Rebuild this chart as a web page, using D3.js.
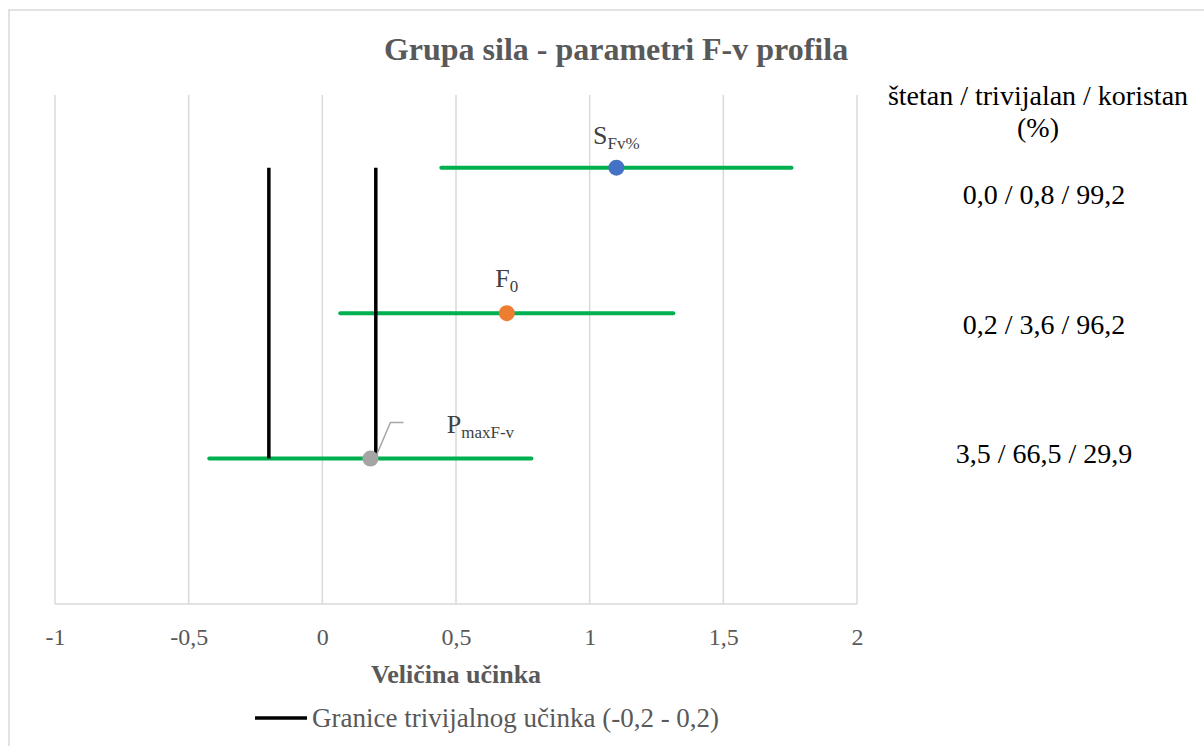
<!DOCTYPE html>
<html>
<head>
<meta charset="utf-8">
<script src="https://cdn.jsdelivr.net/npm/d3@7"></script>
<style>
  body { margin: 0; background: #fff; }
</style>
</head>
<body>
<svg class="chart"></svg>
<script>
// effect sizes (mean with interval) for each parameter
const params = ['SFv%', 'F0', 'PmaxF-v'];
const rowPos = [3, 2, 1];
const means = [1.10, 0.69, 0.18];
const lows = [0.445, 0.067, -0.423];
const highs = [1.755, 1.313, 0.782];
const pointColors = ['#4472C4', '#ED7D31', '#A5A5A5'];
const probText = ['0,0 / 0,8 / 99,2', '0,2 / 3,6 / 96,2', '3,5 / 66,5 / 29,9'];
const trivial = [-0.2, 0.2];
const xTicks = [-1, -0.5, 0, 0.5, 1, 1.5, 2];

const FONT = "'Liberation Serif', 'Times New Roman', serif";

const config = {
  width: 1204, height: 746,
  plot: { left: 55, right: 857, top: 95, bottom: 604 }
};

const svg = d3.select('.chart')
  .attr('width', config.width)
  .attr('height', config.height)
  .attr('font-family', FONT);

// chart frame
svg.append('rect')
  .attr('x', 9).attr('y', 10)
  .attr('width', 1204).attr('height', 746)
  .style('fill', '#fff')
  .style('stroke', '#d9d9d9')
  .style('stroke-width', 1.5);

const x = d3.scaleLinear().domain([-1, 2]).range([config.plot.left, config.plot.right]);
const y = d3.scaleLinear().domain([0, 3.5]).range([config.plot.bottom, config.plot.top]);

// gridlines
svg.selectAll('.grid')
  .data(xTicks)
  .enter().append('line')
  .attr('x1', d => x(d)).attr('x2', d => x(d))
  .attr('y1', config.plot.top).attr('y2', config.plot.bottom)
  .style('stroke', '#d9d9d9')
  .style('stroke-width', 1.5);

// bottom axis line
svg.append('line')
  .attr('x1', x(-1)).attr('x2', x(2))
  .attr('y1', config.plot.bottom).attr('y2', config.plot.bottom)
  .style('stroke', '#d9d9d9')
  .style('stroke-width', 1.5);

// x tick labels
const xAxis = d3.axisBottom(x).tickValues(xTicks).tickSize(0).tickPadding(24)
  .tickFormat(d => String(d).replace('.', ','));
const gx = svg.append('g')
  .attr('transform', 'translate(0,' + config.plot.bottom + ')')
  .call(xAxis)
  .attr('font-family', FONT)
  .attr('font-size', 24);
gx.select('.domain').remove();
gx.selectAll('text')
  .style('fill', '#595959');

// interval lines
svg.selectAll('.ci')
  .data(params)
  .enter().append('line')
  .attr('x1', (d, i) => x(lows[i])).attr('x2', (d, i) => x(highs[i]))
  .attr('y1', (d, i) => y(rowPos[i])).attr('y2', (d, i) => y(rowPos[i]))
  .style('stroke', '#00B050')
  .style('stroke-width', 4)
  .style('stroke-linecap', 'round');

// trivial effect boundaries
svg.selectAll('.triv')
  .data(trivial)
  .enter().append('line')
  .attr('x1', d => x(d)).attr('x2', d => x(d))
  .attr('y1', y(d3.max(rowPos))).attr('y2', y(d3.min(rowPos)))
  .style('stroke', '#000')
  .style('stroke-width', 3.5);

// leader line for the last label
const pi = 2;
svg.append('polyline')
  .attr('points', [
    [x(means[pi]) + 5, y(rowPos[pi]) - 1],
    [x(means[pi]) + 20, y(rowPos[pi]) - 36],
    [x(means[pi]) + 33, y(rowPos[pi]) - 36]
  ].map(p => p.join(',')).join(' '))
  .style('fill', 'none')
  .style('stroke', '#a6a6a6')
  .style('stroke-width', 1.5);

// mean points
svg.selectAll('.pt')
  .data(params)
  .enter().append('circle')
  .attr('cx', (d, i) => x(means[i]))
  .attr('cy', (d, i) => y(rowPos[i]))
  .attr('r', 8)
  .style('fill', (d, i) => pointColors[i]);

// point labels with subscripts
const labelParts = [['S', 'Fv%'], ['F', '0'], ['P', 'maxF-v']];
const labelOffset = [[0, -24], [0, -26], [110, -26]];
labelParts.forEach((p, i) => {
  const t = svg.append('text')
    .attr('x', x(means[i]) + labelOffset[i][0])
    .attr('y', y(rowPos[i]) + labelOffset[i][1])
    .attr('text-anchor', 'middle')
    .style('fill', '#404040')
    .style('font-size', '26px');
  t.append('tspan').text(p[0]);
  t.append('tspan').text(p[1])
    .attr('dy', 5)
    .style('font-size', '17px');
});

// title
svg.append('text')
  .attr('x', 616).attr('y', 60)
  .attr('text-anchor', 'middle')
  .style('font-size', '32px')
  .style('font-weight', 'bold')
  .style('fill', '#595959')
  .text('Grupa sila - parametri F-v profila');

// axis title
svg.append('text')
  .attr('x', 456).attr('y', 683)
  .attr('text-anchor', 'middle')
  .style('font-size', '26px')
  .style('font-weight', 'bold')
  .style('fill', '#595959')
  .text('Veličina učinka');

// right-hand probability column
svg.append('text')
  .attr('x', 1038).attr('y', 105)
  .attr('text-anchor', 'middle')
  .style('font-size', '28px')
  .style('fill', '#000')
  .text('štetan / trivijalan / koristan');
svg.append('text')
  .attr('x', 1038).attr('y', 137)
  .attr('text-anchor', 'middle')
  .style('font-size', '28px')
  .style('fill', '#000')
  .text('(%)');
svg.selectAll('.prob')
  .data(probText)
  .enter().append('text')
  .attr('x', 1044)
  .attr('y', (d, i) => 204 + i * 129.5)
  .attr('text-anchor', 'middle')
  .style('font-size', '28px')
  .style('fill', '#000')
  .text(d => d);

// legend
const legend = svg.append('g').attr('transform', 'translate(255,718)');
legend.append('line')
  .attr('x1', 0).attr('x2', 52)
  .style('stroke', '#000')
  .style('stroke-width', 3.5);
legend.append('text')
  .attr('x', 57).attr('y', 9)
  .style('font-size', '27px')
  .style('fill', '#595959')
  .text('Granice trivijalnog učinka (-0,2 - 0,2)');
</script>
</body>
</html>
